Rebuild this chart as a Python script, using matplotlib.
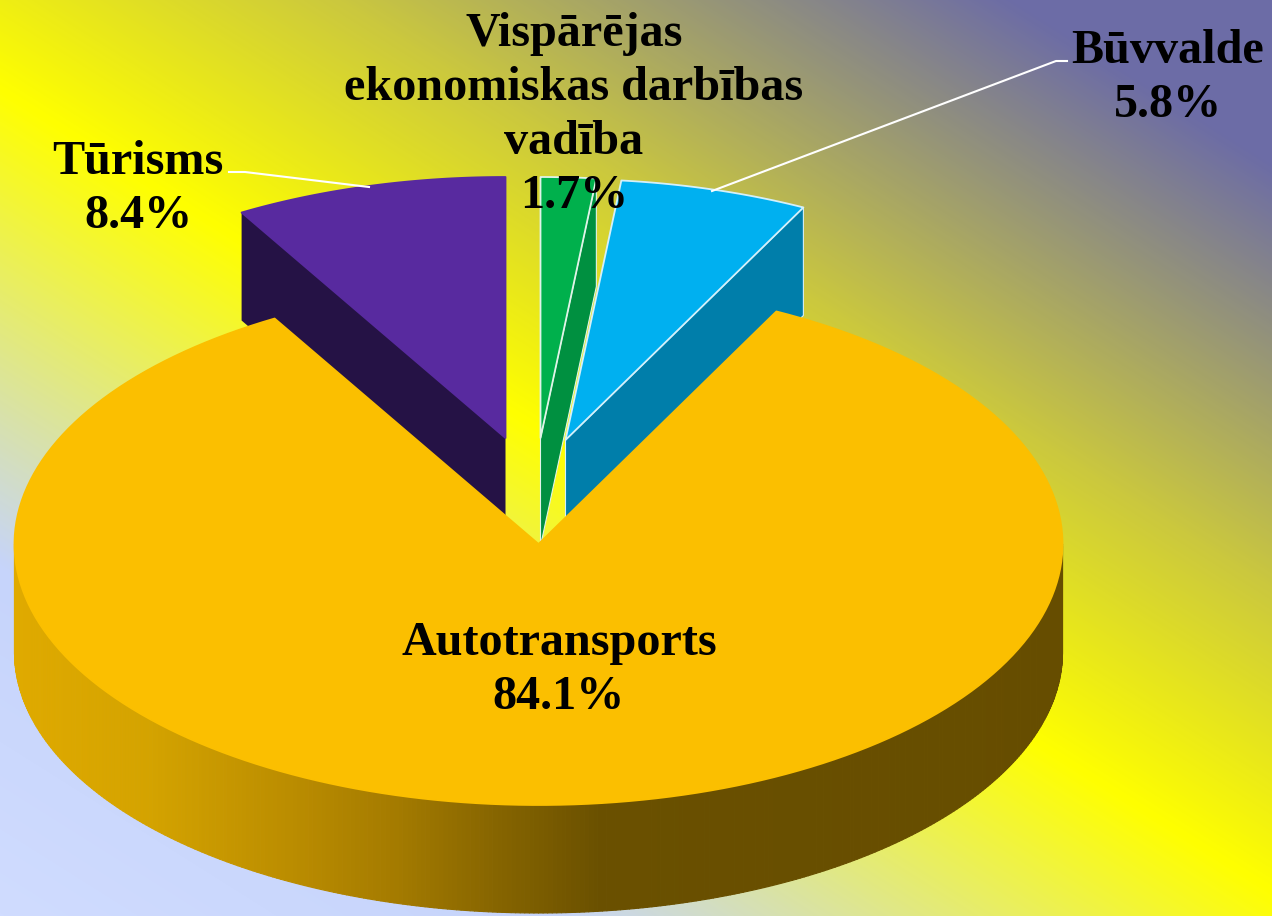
import numpy as np
import matplotlib
matplotlib.use('Agg')
import matplotlib.pyplot as plt
from matplotlib.collections import PolyCollection
from matplotlib.colors import LinearSegmentedColormap, to_rgb
from matplotlib.patches import Polygon

# clockwise from 12 o'clock
labels = ['Vispārējas\nekonomiskas darbības\nvadība', 'Būvvalde', 'Autotransports', 'Tūrisms']
shares = [1.7, 5.8, 84.1, 8.4]

top_colors = ['#00b04c', '#00b0f0', '#fbbf00', '#582a9f']
wall_colors = ['#009040', '#007eaa', '#664d00', '#251245']
edge_colors = ['#e0f4e8', '#d4f0fa', '#fbbf00', '#582a9f']
offsets = [(2, -106), (27, -104), (0, 0), (-33, -106)]

cx, cy = 538.5, 544
rx, ry = 524, 261
depth = 108

plt.rcParams['font.family'] = ['Liberation Serif', 'DejaVu Serif']

fig = plt.figure(figsize=(12.72, 9.16), dpi=100)
ax = fig.add_axes([0, 0, 1, 1])

# diagonal background
yy, xx = np.mgrid[0:916, 0:1272]
n = 0.533 * xx - 0.846 * yy
stops = [-775, -480, -76, 181, 540, 678]
stop_cols = ['#d0dcff', '#c6d4fb', '#ffff00', '#cbc83e', '#6c6ca6', '#6c6ca6']
pos = [(s - stops[0]) / (stops[-1] - stops[0]) for s in stops]
cmap = LinearSegmentedColormap.from_list('bg', list(zip(pos, stop_cols)), N=512)
ax.imshow(n, cmap=cmap, vmin=stops[0], vmax=stops[-1], extent=(0, 1272, 916, 0), aspect='auto', zorder=0)


def rim(a, ox, oy):
    a = np.radians(a)
    return np.column_stack([cx + ox + rx * np.sin(a), cy + oy - ry * np.cos(a)])


edges = np.concatenate([[0], np.cumsum(shares)]) / sum(shares) * 360

# back slices first, big one last
z = 1
for i in [3, 0, 1, 2]:
    a0, a1 = edges[i], edges[i + 1]
    ox, oy = offsets[i]
    apex = np.array([[cx + ox, cy + oy]])
    arc = rim(np.linspace(a0, a1, 200), ox, oy)
    down = np.array([0, depth])

    if i == 2:
        # front wall shaded left to right
        a = np.linspace(90, 270, 361)
        pts = rim(a, ox, oy)
        polys = [[pts[k], pts[k + 1], pts[k + 1] + down, pts[k] + down] for k in range(len(a) - 1)]
        mids = (pts[:-1, 0] + pts[1:, 0]) / 2
        sx = [13, 150, 300, 400, 500, 600, 1062]
        sc = np.array([to_rgb(c) for c in ['#e0aa00', '#d4a300', '#b98b00', '#a37a00', '#856400', '#6a5000', '#664d00']])
        cols = np.column_stack([np.interp(mids, sx, sc[:, j]) for j in range(3)])
        ax.add_collection(PolyCollection(polys, facecolors=cols, edgecolors=cols, linewidths=0.8, zorder=z))
    elif i == 3:
        # purple shows its cut face on the left
        wall = [arc[0], apex[0], apex[0] + down, arc[0] + down]
        ax.add_patch(Polygon(wall, fc=wall_colors[i], ec='none', zorder=z))
    else:
        wall = [apex[0], arc[-1], arc[-1] + down, apex[0] + down]
        ax.add_patch(Polygon(wall, fc=wall_colors[i], ec=edge_colors[i], lw=0.8, zorder=z))
    z += 1
    ax.add_patch(Polygon(np.vstack([apex, arc]), fc=top_colors[i], ec=edge_colors[i], lw=1.3, joinstyle='round', zorder=z))
    z += 1

# leader lines
ax.plot([229, 245, 369], [172, 172, 187], color='white', lw=1.5, zorder=z)
ax.plot([1067, 1056, 712], [61, 61, 191], color='white', lw=1.5, zorder=z)

# labels
label_pos = [(574, 115), (1168, 78), (559, 670), (138, 189)]
for lab, sh, (x, y) in zip(labels, shares, label_pos):
    ax.text(x, y, f'{lab}\n{sh}%', ha='center', va='center', fontsize=34.7, fontweight='bold',
            color='black', linespacing=1.3, zorder=z + 1)

ax.set_xlim(0, 1272)
ax.set_ylim(916, 0)
ax.axis('off')
fig.savefig('out.png', dpi=100)
